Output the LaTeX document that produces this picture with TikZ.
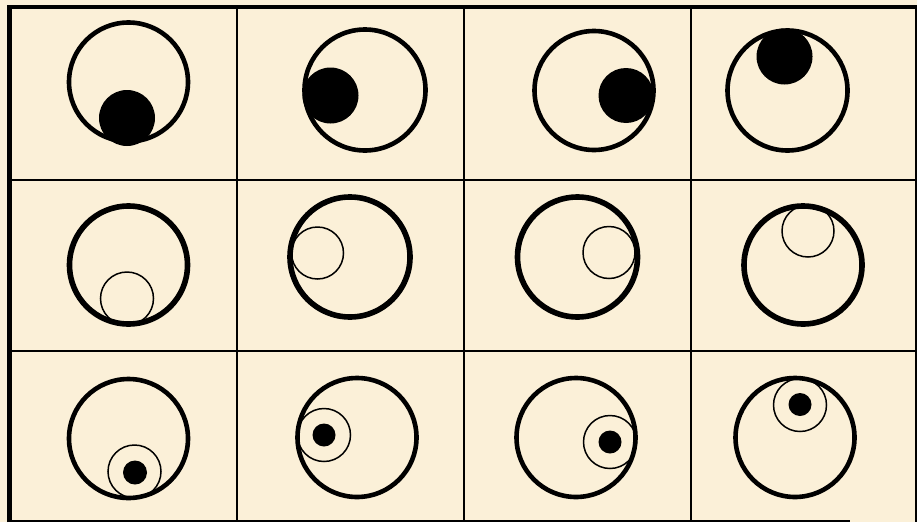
\documentclass[tikz,border=0pt]{standalone}
\definecolor{paper}{RGB}{251,240,216}
\begin{document}
\begin{tikzpicture}[x=1pt,y=-1pt,
  big/.style={draw=black,line width=4.6pt},
  bigb/.style={draw=black,line width=5.6pt},
  ball/.style={fill=black},
  ring/.style={draw=black,line width=1.5pt},
  grid/.style={draw=black,line width=2pt}]
\fill[paper] (0,0) rectangle (917,522);
\useasboundingbox (0,0) rectangle (917,522);
% frame and grid
\draw[black,line width=4.5pt] (9.5,522) -- (9.5,7) -- (917,7);
\draw[black,line width=1.5pt] (916.2,7) -- (916.2,522);
\draw[black,line width=2pt] (9.5,521) -- (850,521);
\foreach \x in {237,464,691} \draw[grid] (\x,7) -- (\x,522);
\foreach \y in {180,351} \draw[grid] (9.5,\y) -- (917,\y);
% row 1
\draw[big] (128.5,82) circle (59.5);
\fill[ball] (127,118) circle (28);
\draw[big] (365,90) circle (60.5);
\fill[ball] (330.5,95.5) circle (28);
\draw[big] (594,90.5) circle (59.5);
\fill[ball] (626,95.5) circle (27.5);
\draw[big] (787.5,90.5) circle (60);
\fill[ball] (784.5,56.5) circle (28);
% row 2
\draw[bigb] (128.5,265) circle (59);
\draw[ring] (127,298.5) circle (26.5);
\draw[bigb] (350,257) circle (60);
\draw[ring] (317.5,253) circle (26);
\draw[bigb] (577.5,257) circle (60);
\draw[ring] (609,252.5) circle (26);
\draw[bigb] (803,265) circle (59);
\draw[ring] (808,231) circle (26);
% row 3
\draw[big] (128.5,438.5) circle (59.5);
\draw[ring] (134.5,471.5) circle (26.5);
\fill[ball] (135,472.5) circle (12);
\draw[big] (357,437.5) circle (59.5);
\draw[ring] (324,435) circle (26.5);
\fill[ball] (324,435) circle (11.5);
\draw[big] (576,437.5) circle (59.5);
\draw[ring] (610,442) circle (26.5);
\fill[ball] (610,442) circle (11.5);
\draw[big] (795,437.5) circle (59.5);
\draw[ring] (800,405) circle (26.5);
\fill[ball] (800,404.5) circle (11.5);
\end{tikzpicture}
\end{document}
